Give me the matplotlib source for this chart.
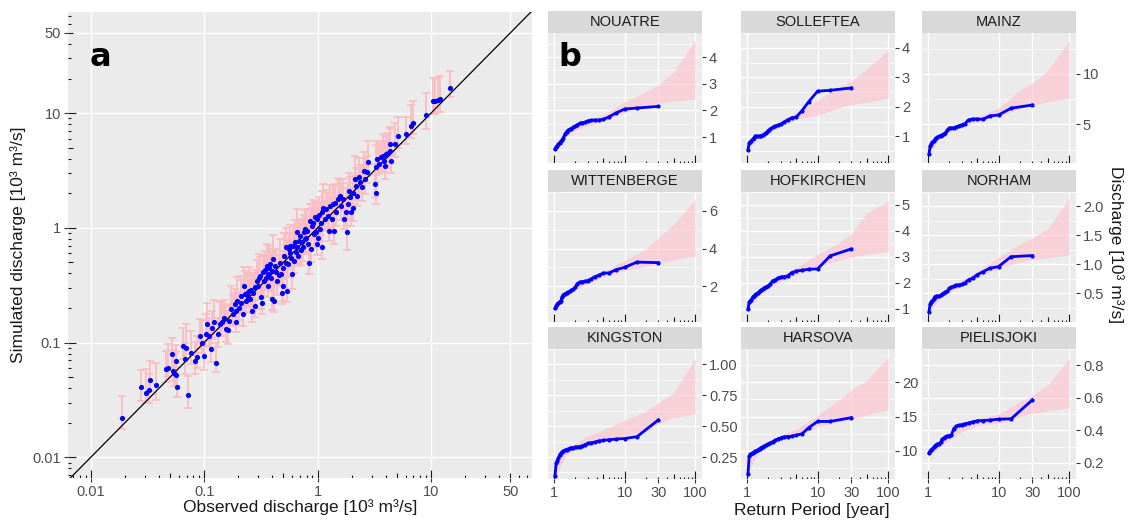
import matplotlib

matplotlib.use("Agg")
import matplotlib.pyplot as plt
from matplotlib.transforms import blended_transform_factory

OUTPUT_IMAGE: str = "out.png"
FIG_W: int = 1141
FIG_H: int = 523

PANEL_BG: str = "#EBEBEB"
STRIP_BG: str = "#D9D9D9"
TEXT_GREY: str = "#4D4D4D"
TICK_GREY: str = "#333333"

# ---- panel a: observed vs simulated discharge (10^3 m3/s) ----
OBS_Q: list[float] = [
    0.0187, 0.0277, 0.0305, 0.0327, 0.0336, 0.0377, 0.0458, 0.048, 0.0515, 0.0527,
    0.0545, 0.056, 0.0564, 0.0575, 0.065, 0.0697, 0.072, 0.0675, 0.076, 0.0833,
    0.0861, 0.092, 0.0947, 0.0998, 0.1046, 0.106, 0.11, 0.115, 0.117, 0.122,
    0.128, 0.132, 0.138, 0.145, 0.15, 0.155, 0.161, 0.167, 0.173, 0.179,
    0.186, 0.189, 0.192, 0.196, 0.203, 0.209, 0.213, 0.218, 0.224, 0.229,
    0.232, 0.237, 0.242, 0.249, 0.254, 0.26, 0.266, 0.272, 0.278, 0.282,
    0.292, 0.298, 0.306, 0.313, 0.32, 0.324, 0.331, 0.336, 0.343, 0.348,
    0.355, 0.362, 0.368, 0.373, 0.38, 0.387, 0.394, 0.4, 0.406, 0.414,
    0.42, 0.429, 0.438, 0.454, 0.467, 0.476, 0.486, 0.494, 0.5, 0.51,
    0.522, 0.529, 0.536, 0.548, 0.56, 0.567, 0.576, 0.588, 0.6, 0.609,
    0.617, 0.63, 0.644, 0.652, 0.662, 0.676, 0.69, 0.7, 0.715, 0.73,
    0.74, 0.751, 0.767, 0.777, 0.794, 0.805, 0.822, 0.846, 0.863, 0.882,
    0.894, 0.913, 0.926, 0.946, 0.959, 0.979, 0.993, 1.014, 1.028, 1.05,
    1.065, 1.087, 1.1, 1.126, 1.158, 1.183, 1.225, 1.27, 1.295, 1.332,
    1.36, 1.39, 1.43, 1.46, 1.51, 1.56, 1.62, 1.68, 1.71, 1.77,
    1.8, 1.84, 1.89, 1.93, 1.97, 2.03, 2.07, 2.14, 2.19, 2.22,
    2.3, 2.38, 2.46, 2.55, 2.64, 2.74, 2.8, 3.21, 3.26, 3.3,
    3.37, 3.5, 3.62, 3.75, 3.88, 3.96, 4.02, 4.16, 4.31, 4.4,
    4.31, 4.79, 5.13, 6.04, 6.64, 6.93, 8.98, 10.3, 10.8, 11.5,
    11.9, 14.6,
]
SIM_Q: list[float] = [
    0.0222, 0.041, 0.0366, 0.0387, 0.047, 0.0428, 0.0585, 0.0605, 0.079, 0.0566,
    0.054, 0.052, 0.0694, 0.0406, 0.0935, 0.0902, 0.0348, 0.0715, 0.081, 0.0694,
    0.0755, 0.114, 0.0982, 0.0767, 0.118, 0.145, 0.113, 0.0887, 0.135, 0.15,
    0.067, 0.119, 0.145, 0.152, 0.165, 0.13, 0.128, 0.155, 0.197, 0.177,
    0.216, 0.15, 0.188, 0.231, 0.2, 0.255, 0.223, 0.177, 0.308, 0.264,
    0.231, 0.273, 0.247, 0.282, 0.239, 0.288, 0.188, 0.273, 0.302, 0.209,
    0.344, 0.313, 0.367, 0.381, 0.247, 0.223, 0.408, 0.344, 0.431, 0.367,
    0.467, 0.395, 0.313, 0.442, 0.482, 0.367, 0.422, 0.239, 0.533, 0.231,
    0.467, 0.408, 0.344, 0.387, 0.498, 0.395, 0.273, 0.313, 0.442, 0.57,
    0.674, 0.498, 0.282, 0.482, 0.652, 0.697, 0.601, 0.551, 0.395, 0.697,
    0.515, 0.745, 0.61, 0.674, 0.911, 0.57, 0.77, 0.852, 0.643, 0.745,
    0.674, 0.911, 0.797, 0.973, 0.823, 0.941, 0.72, 0.498, 1.15, 0.652,
    1.04, 1.11, 0.881, 1.23, 0.911, 0.72, 1.19, 0.823, 1.29, 0.973,
    1.11, 0.674, 1.36, 1.5, 1.19, 1.45, 1.27, 0.941, 1.56, 1.19,
    1.61, 0.941, 1.64, 1.36, 1.78, 1.9, 1.56, 1.78, 1.19, 1.36,
    0.923, 1.61, 2.1, 1.84, 1.36, 2.03, 1.5, 2.66, 2.32, 1.9,
    2.75, 2.49, 2.25, 3.14, 2.66, 3.04, 3.71, 2.4, 2.03, 3.36,
    3.97, 3.59, 4.1, 4.25, 3.84, 3.47, 4.39, 4.48, 4.7, 3.84,
    5.37, 5.37, 6.25, 6.55, 7.78, 8.14, 9.6, 12.7, 12.8, 13.0,
    13.2, 16.7,
]
# ensemble range as a fraction of the simulated value
ERR_LO: list[float] = [
    0.79, 0.75, 0.82, 0.77, 0.80, 0.74, 0.78, 0.83, 0.76, 0.81,
    0.78, 0.80, 0.75, 0.82, 0.77, 0.79, 0.78, 0.74, 0.81, 0.76,
    0.80, 0.77, 0.83, 0.75, 0.79, 0.78, 0.81, 0.76, 0.80, 0.74,
    0.82, 0.77, 0.79, 0.75, 0.81, 0.78, 0.76, 0.80, 0.74, 0.79,
    0.77, 0.82, 0.75, 0.80, 0.78, 0.76, 0.81, 0.79, 0.74, 0.77,
    0.80, 0.75, 0.82, 0.78, 0.76, 0.79, 0.81, 0.74, 0.77, 0.80,
    0.78, 0.76, 0.82, 0.75, 0.79, 0.80, 0.77, 0.74, 0.81, 0.78,
    0.76, 0.80, 0.79, 0.75, 0.82, 0.77, 0.78, 0.81, 0.74, 0.80,
    0.77, 0.79, 0.76, 0.82, 0.75, 0.78, 0.80, 0.74, 0.81, 0.77,
    0.79, 0.76, 0.80, 0.78, 0.75, 0.82, 0.77, 0.79, 0.74, 0.81,
    0.78, 0.76, 0.80, 0.77, 0.75, 0.82, 0.79, 0.78, 0.74, 0.80,
    0.76, 0.81, 0.77, 0.79, 0.75, 0.78, 0.82, 0.80, 0.74, 0.77,
    0.79, 0.76, 0.81, 0.78, 0.75, 0.80, 0.77, 0.82, 0.74, 0.79,
    0.78, 0.80, 0.76, 0.77, 0.81, 0.75, 0.79, 0.82, 0.78, 0.74,
    0.80, 0.77, 0.79, 0.76, 0.81, 0.78, 0.75, 0.80, 0.82, 0.77,
    0.70, 0.74, 0.78, 0.81, 0.76, 0.80, 0.77, 0.79, 0.75, 0.82,
    0.78, 0.80, 0.76, 0.79, 0.74, 0.81, 0.77, 0.78, 0.80, 0.75,
    0.79, 0.82, 0.77, 0.78, 0.80, 0.76, 0.81, 0.74, 0.79, 0.78,
    0.80, 0.77, 0.79, 0.82, 0.78, 0.80, 0.76, 0.77, 0.77, 0.79,
    0.78, 0.82,
]
ERR_HI: list[float] = [
    1.53, 1.42, 1.60, 1.38, 1.48, 1.55, 1.44, 1.62, 1.40, 1.51,
    1.46, 1.58, 1.37, 1.50, 1.43, 1.61, 1.47, 1.39, 1.56, 1.45,
    1.52, 1.41, 1.59, 1.36, 1.49, 1.54, 1.44, 1.63, 1.40, 1.57,
    1.47, 1.38, 1.55, 1.51, 1.43, 1.60, 1.46, 1.41, 1.58, 1.48,
    1.36, 1.53, 1.45, 1.62, 1.39, 1.50, 1.56, 1.42, 1.47, 1.59,
    1.44, 1.52, 1.37, 1.61, 1.46, 1.40, 1.55, 1.49, 1.43, 1.57,
    1.51, 1.38, 1.60, 1.45, 1.48, 1.54, 1.41, 1.63, 1.47, 1.39,
    1.56, 1.44, 1.50, 1.58, 1.36, 1.53, 1.46, 1.42, 1.61, 1.48,
    1.40, 1.57, 1.45, 1.51, 1.62, 1.38, 1.49, 1.55, 1.43, 1.59,
    1.47, 1.41, 1.54, 1.60, 1.37, 1.52, 1.46, 1.44, 1.58, 1.50,
    1.42, 1.56, 1.48, 1.39, 1.61, 1.45, 1.53, 1.40, 1.57, 1.47,
    1.51, 1.43, 1.59, 1.46, 1.38, 1.55, 1.49, 1.62, 1.41, 1.52,
    1.44, 1.58, 1.47, 1.36, 1.54, 1.50, 1.42, 1.60, 1.45, 1.56,
    1.48, 1.40, 1.53, 1.61, 1.43, 1.46, 1.57, 1.39, 1.51, 1.55,
    1.44, 1.59, 1.47, 1.41, 1.52, 1.38, 1.58, 1.49, 1.45, 1.62,
    1.38, 1.54, 1.43, 1.50, 1.56, 1.40, 1.47, 1.60, 1.44, 1.52,
    1.48, 1.41, 1.57, 1.46, 1.53, 1.39, 1.55, 1.50, 1.42, 1.58,
    1.45, 1.51, 1.37, 1.54, 1.48, 1.60, 1.43, 1.49, 1.56, 1.46,
    1.40, 1.52, 1.47, 1.41, 1.50, 1.58, 1.55, 1.60, 1.57, 1.55,
    1.58, 1.40,
]
SCATTER_BREAKS: list[float] = [0.01, 0.1, 1, 10, 50]
SCATTER_LABELS: list[str] = ["0.01", "0.1", "1", "10", "50"]

# ---- panel b: return period curves per station ----
STATIONS: list[str] = [
    "NOUATRE", "SOLLEFTEA", "MAINZ",
    "WITTENBERGE", "HOFKIRCHEN", "NORHAM",
    "KINGSTON", "HARSOVA", "PIELISJOKI",
]
RETURN_PERIODS: list[float] = [
    1.03, 1.07, 1.11, 1.15, 1.2, 1.25, 1.3, 1.36, 1.43, 1.5,
    1.58, 1.67, 1.76, 1.88, 2.0, 2.14, 2.31, 2.5, 2.73, 3.0,
    3.33, 3.75, 4.29, 5.0, 6.0, 7.5, 10.0, 15.0, 30.0,
]
OBS_CURVES: dict[str, list[float]] = {
    "NOUATRE": [0.55, 0.63, 0.68, 0.73, 0.79, 0.84, 0.88, 0.98, 1.12, 1.2,
                1.25, 1.29, 1.32, 1.37, 1.41, 1.47, 1.51, 1.54, 1.55, 1.61,
                1.63, 1.64, 1.64, 1.66, 1.76, 1.9, 2.05, 2.09, 2.15],
    "SOLLEFTEA": [0.55, 0.78, 0.82, 0.86, 0.9, 0.95, 1.0, 1.0, 1.0, 1.01,
                  1.02, 1.04, 1.07, 1.13, 1.2, 1.26, 1.31, 1.35, 1.38, 1.41,
                  1.48, 1.56, 1.63, 1.66, 1.87, 2.18, 2.53, 2.56, 2.64],
    "MAINZ": [2.05, 2.85, 3.05, 3.2, 3.35, 3.5, 3.62, 3.72, 3.8, 3.88,
              3.96, 4.05, 4.15, 4.4, 4.62, 4.64, 4.66, 4.75, 4.85, 4.95,
              5.08, 5.45, 5.53, 5.53, 5.5, 5.83, 5.93, 6.6, 6.92],
    "WITTENBERGE": [0.82, 0.97, 1.03, 1.1, 1.18, 1.22, 1.45, 1.55, 1.61, 1.65,
                    1.69, 1.73, 1.78, 1.83, 1.96, 2.14, 2.22, 2.24, 2.26, 2.3,
                    2.38, 2.5, 2.58, 2.7, 2.7, 2.87, 3.0, 3.28, 3.25],
    "HOFKIRCHEN": [0.99, 1.26, 1.3, 1.36, 1.46, 1.5, 1.55, 1.59, 1.63, 1.68,
                   1.73, 1.78, 1.82, 1.86, 1.9, 1.97, 2.09, 2.12, 2.19, 2.23,
                   2.24, 2.27, 2.4, 2.46, 2.49, 2.53, 2.54, 3.04, 3.31],
    "NORHAM": [0.18, 0.31, 0.35, 0.37, 0.4, 0.44, 0.445, 0.445, 0.45, 0.46,
               0.48, 0.5, 0.52, 0.53, 0.58, 0.6, 0.62, 0.64, 0.64, 0.65,
               0.68, 0.73, 0.76, 0.82, 0.87, 0.93, 0.96, 1.13, 1.15],
    "KINGSTON": [0.1, 0.2, 0.22, 0.24, 0.27, 0.28, 0.29, 0.3, 0.305, 0.31,
                 0.315, 0.32, 0.325, 0.325, 0.33, 0.33, 0.335, 0.34, 0.35, 0.36,
                 0.365, 0.37, 0.38, 0.385, 0.39, 0.395, 0.4, 0.415, 0.55],
    "HARSOVA": [6.65, 9.2, 9.5, 9.6, 9.75, 9.85, 9.95, 10.05, 10.2, 10.35,
                10.5, 10.6, 10.75, 10.9, 11.05, 11.2, 11.35, 11.55, 11.75, 11.9,
                12.05, 12.1, 12.15, 12.3, 12.5, 13.4, 14.3, 14.3, 14.85],
    "PIELISJOKI": [0.26, 0.27, 0.28, 0.285, 0.295, 0.305, 0.31, 0.315, 0.318, 0.325,
                   0.345, 0.35, 0.36, 0.365, 0.367, 0.37, 0.41, 0.425, 0.43, 0.435,
                   0.44, 0.445, 0.452, 0.458, 0.46, 0.462, 0.468, 0.47, 0.586],
}
BAND_PERIODS: list[float] = [1, 1.5, 2, 3, 5, 10, 20, 30, 50, 100]
BAND_LO: dict[str, list[float]] = {
    "NOUATRE": [0.45, 1.05, 1.25, 1.42, 1.6, 1.93, 2.16, 2.26, 2.35, 2.42],
    "SOLLEFTEA": [0.5, 0.95, 1.12, 1.36, 1.58, 1.72, 1.97, 2.08, 2.16, 2.29],
    "MAINZ": [1.9, 3.7, 4.3, 4.85, 5.25, 5.8, 6.55, 6.9, 7.25, 7.58],
    "WITTENBERGE": [0.75, 1.5, 1.8, 2.15, 2.5, 2.84, 3.05, 3.2, 3.4, 3.6],
    "HOFKIRCHEN": [0.95, 1.55, 1.8, 2.05, 2.3, 2.62, 2.88, 3.0, 3.1, 3.22],
    "NORHAM": [0.15, 0.42, 0.52, 0.62, 0.77, 0.93, 1.04, 1.08, 1.11, 1.16],
    "KINGSTON": [0.07, 0.27, 0.31, 0.35, 0.38, 0.42, 0.46, 0.52, 0.57, 0.6],
    "HARSOVA": [6.5, 10.0, 10.8, 11.6, 12.2, 13.5, 14.2, 14.6, 15.2, 16.07],
    "PIELISJOKI": [0.24, 0.3, 0.34, 0.39, 0.43, 0.445, 0.485, 0.503, 0.52, 0.54],
}
BAND_HI: dict[str, list[float]] = {
    "NOUATRE": [0.6, 1.22, 1.42, 1.62, 1.83, 2.33, 2.7, 2.95, 3.45, 4.63],
    "SOLLEFTEA": [0.7, 1.08, 1.3, 1.55, 1.8, 2.22, 2.66, 2.87, 3.29, 3.91],
    "MAINZ": [2.3, 4.0, 4.65, 5.15, 5.7, 6.6, 8.4, 9.07, 10.4, 13.3],
    "WITTENBERGE": [0.95, 1.68, 1.98, 2.38, 2.75, 3.37, 3.98, 4.55, 5.3, 6.61],
    "HOFKIRCHEN": [1.15, 1.72, 2.0, 2.3, 2.6, 3.1, 3.55, 3.9, 4.7, 5.15],
    "NORHAM": [0.3, 0.5, 0.62, 0.73, 0.88, 1.12, 1.35, 1.45, 1.62, 2.14],
    "KINGSTON": [0.2, 0.31, 0.36, 0.42, 0.47, 0.55, 0.62, 0.69, 0.77, 1.05],
    "HARSOVA": [8.0, 10.6, 11.4, 12.3, 13.2, 15.2, 17.4, 18.9, 20.3, 23.7],
    "PIELISJOKI": [0.28, 0.33, 0.38, 0.43, 0.47, 0.5, 0.575, 0.613, 0.678, 0.843],
}
Y_TICKS: dict[str, list[float]] = {
    "NOUATRE": [1, 2, 3, 4],
    "SOLLEFTEA": [1, 2, 3, 4],
    "MAINZ": [5, 10],
    "WITTENBERGE": [2, 4, 6],
    "HOFKIRCHEN": [1, 2, 3, 4, 5],
    "NORHAM": [0.5, 1.0, 1.5, 2.0],
    "KINGSTON": [0.25, 0.5, 0.75, 1.0],
    "HARSOVA": [10, 15, 20],
    "PIELISJOKI": [0.2, 0.4, 0.6, 0.8],
}
Y_DECIMALS: dict[str, int] = {
    "NOUATRE": 0, "SOLLEFTEA": 0, "MAINZ": 0, "WITTENBERGE": 0,
    "HOFKIRCHEN": 0, "NORHAM": 1, "KINGSTON": 2, "HARSOVA": 0, "PIELISJOKI": 1,
}
Y_LIMITS: dict[str, tuple[float, float]] = {
    "NOUATRE": (0.03, 4.9),
    "SOLLEFTEA": (0.1, 4.19),
    "MAINZ": (1.16, 14.07),
    "WITTENBERGE": (0.1, 6.95),
    "HOFKIRCHEN": (0.54, 5.38),
    "NORHAM": (0.0, 2.25),
    "KINGSTON": (0.072, 1.11),
    "HARSOVA": (5.92, 24.85),
    "PIELISJOKI": (0.169, 0.884),
}
PERIOD_BREAKS: list[float] = [1, 10, 30, 100]


def px_rect(left: float, top: float, width: float, height: float) -> list[float]:
    return [left / FIG_W, 1 - (top + height) / FIG_H, width / FIG_W, height / FIG_H]


def style_panel(axis) -> None:
    axis.set_facecolor(PANEL_BG)
    for spine in axis.spines.values():
        spine.set_visible(False)
    axis.set_axisbelow(True)
    axis.grid(True, which="major", color="white", linewidth=1.0)
    axis.tick_params(colors=TICK_GREY, labelcolor=TEXT_GREY, labelsize=10.5,
                     length=3, width=0.8, pad=2)


def draw_logticks(axis, side: str, exponents: range, lengths: tuple[float, float, float]) -> None:
    long_len, mid_len, short_len = lengths
    if side == "bottom":
        trans = blended_transform_factory(axis.transData, axis.transAxes)
    else:
        trans = blended_transform_factory(axis.transAxes, axis.transData)
    for exp in exponents:
        for mult in range(1, 10):
            value = mult * 10.0 ** exp
            size = long_len if mult == 1 else (mid_len if mult == 5 else short_len)
            if side == "bottom":
                xs, ys = [value, value], [0, size]
            else:
                xs, ys = [0, size], [value, value]
            axis.plot(xs, ys, transform=trans, color="#1A1A1A", linewidth=0.8,
                      solid_capstyle="butt", zorder=2)


def draw_scatter_panel(fig) -> None:
    left, top, width, height = 68, 12, 464, 466
    axis = fig.add_axes(px_rect(left, top, width, height))
    style_panel(axis)
    axis.set_xscale("log")
    axis.set_yscale("log")
    axis.set_xlim(0.0063, 77.6)
    axis.set_ylim(0.0066, 76)

    lower = [s * f for s, f in zip(SIM_Q, ERR_LO)]
    upper = [s * f for s, f in zip(SIM_Q, ERR_HI)]
    axis.errorbar(
        OBS_Q, SIM_Q,
        yerr=[[s - lo for s, lo in zip(SIM_Q, lower)], [hi - s for s, hi in zip(SIM_Q, upper)]],
        fmt="none", ecolor="#FABDC3", elinewidth=1.3, capsize=2.6, capthick=1.2, zorder=2,
    )
    axis.plot([1e-3, 1e3], [1e-3, 1e3], color="black", linewidth=0.9, zorder=3)
    axis.scatter(OBS_Q, SIM_Q, s=14, color="blue", linewidths=0, zorder=4)

    axis.set_xticks(SCATTER_BREAKS, SCATTER_LABELS)
    axis.set_yticks(SCATTER_BREAKS, SCATTER_LABELS)
    axis.minorticks_off()
    draw_logticks(axis, "bottom", range(-3, 2), (8 / height, 5 / height, 3 / height))
    draw_logticks(axis, "left", range(-3, 2), (8 / width, 5 / width, 3 / width))

    fig.text(300 / FIG_W, 1 - 507 / FIG_H, "Observed discharge [10³ m³/s]",
             ha="center", va="center", fontsize=12.5, color="#1A1A1A")
    fig.text(18 / FIG_W, 1 - 245 / FIG_H, "Simulated discharge [10³ m³/s]",
             ha="center", va="center", rotation=90, fontsize=12.5, color="#1A1A1A")
    fig.text(100 / FIG_W, 1 - 58 / FIG_H, "a", ha="center", va="center",
             fontsize=23, fontweight="bold", family="DejaVu Sans")


def draw_station_panels(fig) -> None:
    col_lefts = [548, 741, 922]
    row_tops = [33, 192, 349]
    width, height, strip_h = 154, 130, 22

    for idx, name in enumerate(STATIONS):
        row, col = divmod(idx, 3)
        left, top = col_lefts[col], row_tops[row]

        strip = fig.add_axes(px_rect(left, top - strip_h, width, strip_h))
        strip.set_facecolor(STRIP_BG)
        strip.set_xticks([])
        strip.set_yticks([])
        for spine in strip.spines.values():
            spine.set_visible(False)
        strip.text(0.5, 0.5, name, ha="center", va="center", fontsize=10.5,
                   color="#1A1A1A", transform=strip.transAxes)

        axis = fig.add_axes(px_rect(left, top, width, height))
        style_panel(axis)
        axis.set_xscale("log")
        axis.set_xlim(0.82, 125)
        axis.set_ylim(*Y_LIMITS[name])

        axis.fill_between(BAND_PERIODS, BAND_LO[name], BAND_HI[name],
                          color="pink", alpha=0.6, linewidth=0, zorder=1)
        axis.plot(RETURN_PERIODS, OBS_CURVES[name], color="blue", linewidth=2.0,
                  marker="o", markersize=2.0, zorder=3)

        axis.set_xticks(PERIOD_BREAKS, [str(b) for b in PERIOD_BREAKS])
        axis.xaxis.set_minor_locator(matplotlib.ticker.NullLocator())
        ticks = Y_TICKS[name]
        decimals = Y_DECIMALS[name]
        axis.set_yticks(ticks, [f"{t:.{decimals}f}" for t in ticks])
        step = ticks[1] - ticks[0]
        minors = [t - step / 2 for t in ticks] + [ticks[-1] + step / 2]
        axis.set_yticks(minors, minor=True)
        axis.grid(True, which="minor", axis="y", color="white", linewidth=0.5)
        axis.tick_params(axis="y", which="minor", length=0)
        axis.yaxis.tick_right()
        axis.tick_params(axis="y", which="major", right=True, left=False,
                         labelright=True, labelleft=False)
        if row < 2:
            axis.tick_params(axis="x", labelbottom=False, length=0)
        draw_logticks(axis, "bottom", range(0, 3), (8 / height, 5 / height, 2.5 / height))

    fig.text(812 / FIG_W, 1 - 510 / FIG_H, "Return Period [year]",
             ha="center", va="center", fontsize=12.5, color="#1A1A1A")
    fig.text(1116 / FIG_W, 1 - 245 / FIG_H, "Discharge [10³ m³/s]",
             ha="center", va="center", rotation=270, fontsize=12.5, color="#1A1A1A")
    fig.text(570 / FIG_W, 1 - 57 / FIG_H, "b", ha="center", va="center",
             fontsize=23, fontweight="bold", family="DejaVu Sans", zorder=10)


def main() -> None:
    plt.rcParams["font.family"] = ["Liberation Sans", "DejaVu Sans"]
    fig = plt.figure(figsize=(FIG_W / 100, FIG_H / 100), dpi=100)
    draw_scatter_panel(fig)
    draw_station_panels(fig)
    fig.savefig(OUTPUT_IMAGE, dpi=100)
    plt.close(fig)


if __name__ == "__main__":
    main()
